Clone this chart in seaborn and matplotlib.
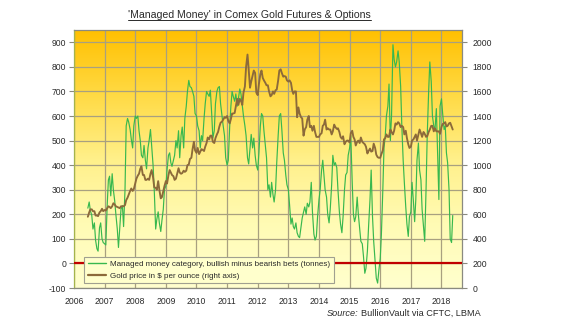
import numpy as np
import pandas as pd
import matplotlib
matplotlib.use("Agg")
import matplotlib.pyplot as plt
from matplotlib.colors import LinearSegmentedColormap
from matplotlib.lines import Line2D
import seaborn as sns

# ---------------------------------------------------------------------------
# Semi-monthly observations (1st and 15th), mid-June 2006 to mid-May 2018
# Managed money net position, tonnes (bullish minus bearish bets)
mm_2006 = [225, 250, 215, 195, 140, 165, 95, 60, 50, 145, 165, 100, 85]
mm_2007 = [80, 75, 240, 340, 355, 275, 365, 300, 255, 200, 140, 65,
           150, 220, 235, 150, 300, 560, 590, 575, 545, 505, 470, 560]
mm_2008 = [600, 590, 600, 540, 500, 440, 430, 480, 420, 385, 470, 500,
           545, 480, 400, 300, 140, 180, 210, 165, 130, 175, 220, 300]
mm_2009 = [315, 380, 440, 450, 410, 395, 420, 440, 500, 470, 540, 430,
           520, 555, 470, 590, 640, 700, 745, 720, 715, 700, 680, 610]
mm_2010 = [600, 560, 540, 470, 520, 500, 590, 650, 700, 690, 680, 705,
           610, 510, 540, 650, 700, 715, 720, 650, 600, 560, 520, 430]
mm_2011 = [400, 420, 560, 640, 700, 680, 660, 690, 640, 670, 710, 690,
           640, 600, 560, 520, 430, 405, 470, 525, 470, 510, 440, 400]
mm_2012 = [380, 450, 560, 610, 600, 540, 480, 430, 300, 320, 270, 330,
           280, 250, 300, 410, 520, 600, 610, 545, 450, 420, 360, 320]
mm_2013 = [300, 240, 160, 185, 150, 140, 165, 125, 110, 105, 150, 185,
           210, 230, 200, 245, 230, 250, 330, 210, 120, 95, 110, 190]
mm_2014 = [260, 300, 380, 420, 360, 300, 270, 200, 165, 220, 320, 440,
           400, 410, 390, 300, 210, 160, 125, 190, 300, 360, 370, 440]
mm_2015 = [470, 520, 330, 200, 170, 190, 270, 200, 140, 90, 80, 30,
           -40, -20, 50, 150, 260, 380, 190, 90, 10, -60, -80, -30]
mm_2016 = [20, 120, 300, 470, 520, 600, 640, 730, 500, 600, 890, 830,
           800, 820, 865, 820, 720, 560, 420, 330, 230, 160, 110, 190]
mm_2017 = [210, 330, 250, 170, 260, 420, 490, 380, 340, 220, 150, 90,
           300, 520, 700, 820, 740, 600, 560, 540, 630, 450, 260, 640]
mm_2018 = [670, 610, 545, 560, 450, 410, 300, 100, 85, 195]

# Gold price, US$ per ounce
gold_2006 = [580, 615, 640, 640, 625, 625, 590, 590, 585, 615, 625, 645, 625]
gold_2007 = [635, 630, 650, 665, 660, 650, 665, 690, 680, 665, 660, 655,
             650, 665, 665, 665, 675, 715, 735, 760, 790, 810, 790, 805]
gold_2008 = [850, 890, 915, 930, 970, 990, 920, 920, 880, 880, 890, 880,
             930, 960, 900, 820, 815, 800, 870, 800, 730, 740, 790, 830]
gold_2009 = [870, 850, 920, 960, 940, 920, 910, 880, 890, 930, 975, 940,
             930, 935, 955, 945, 955, 1000, 1005, 1050, 1060, 1130, 1190, 1120]
gold_2010 = [1100, 1140, 1090, 1110, 1130, 1125, 1115, 1150, 1180, 1225, 1210, 1240,
             1240, 1190, 1180, 1220, 1250, 1270, 1315, 1345, 1355, 1370, 1390, 1385]
gold_2011 = [1400, 1360, 1340, 1375, 1420, 1420, 1425, 1480, 1540, 1490, 1540, 1525,
             1490, 1590, 1640, 1800, 1900, 1780, 1630, 1680, 1730, 1770, 1750, 1590]
gold_2012 = [1570, 1660, 1740, 1770, 1710, 1690, 1670, 1650, 1650, 1600, 1560, 1570,
             1600, 1580, 1610, 1615, 1690, 1770, 1780, 1750, 1720, 1725, 1720, 1690]
gold_2013 = [1680, 1690, 1670, 1610, 1580, 1600, 1600, 1390, 1470, 1420, 1390, 1380,
             1240, 1290, 1310, 1370, 1400, 1310, 1320, 1280, 1320, 1270, 1230, 1230]
gold_2014 = [1230, 1250, 1260, 1320, 1330, 1370, 1290, 1300, 1290, 1290, 1250, 1275,
             1330, 1310, 1295, 1300, 1270, 1230, 1215, 1235, 1170, 1190, 1200, 1200]
gold_2015 = [1185, 1260, 1280, 1230, 1210, 1160, 1190, 1200, 1180, 1225, 1190, 1180,
             1170, 1150, 1095, 1115, 1135, 1110, 1115, 1175, 1140, 1085, 1065, 1060]
gold_2016 = [1060, 1090, 1120, 1210, 1220, 1250, 1230, 1230, 1290, 1270, 1250, 1280,
             1340, 1330, 1350, 1340, 1310, 1320, 1310, 1250, 1280, 1220, 1170, 1140]
gold_2017 = [1150, 1200, 1210, 1230, 1250, 1200, 1250, 1290, 1260, 1230, 1270, 1255,
             1230, 1235, 1270, 1290, 1320, 1320, 1275, 1300, 1275, 1275, 1275, 1255]
gold_2018 = [1310, 1335, 1340, 1350, 1315, 1320, 1340, 1345, 1315, 1290]

year_ticks = list(range(2006, 2019))
left_ticks = list(range(-100, 1000, 100))
right_ticks = list(range(0, 2100, 200))

title = "'Managed Money' in Comex Gold Futures & Options"
mm_label = "Managed money category, bullish minus bearish bets (tonnes)"
gold_label = "Gold price in \\$ per ounce (right axis)"
source_italic = "Source:"
source_rest = "BullionVault via CFTC, LBMA"

# ---------------------------------------------------------------------------
dates = pd.date_range("2006-06-15", "2018-05-15", freq="SMS")
days_in_year = np.where(dates.is_leap_year, 366.0, 365.0)
frac_year = dates.year + (dates.dayofyear - 1) / days_in_year

mm_values = (mm_2006 + mm_2007 + mm_2008 + mm_2009 + mm_2010 + mm_2011 + mm_2012
             + mm_2013 + mm_2014 + mm_2015 + mm_2016 + mm_2017 + mm_2018)
gold_values = (gold_2006 + gold_2007 + gold_2008 + gold_2009 + gold_2010 + gold_2011
               + gold_2012 + gold_2013 + gold_2014 + gold_2015 + gold_2016
               + gold_2017 + gold_2018)

df = pd.DataFrame({"year": np.asarray(frac_year, dtype=float),
                   "managed": mm_values, "gold": gold_values})

sns.set_style("white")
plt.rcParams["font.family"] = ["Liberation Sans", "DejaVu Sans"]
plt.rcParams["axes.unicode_minus"] = False

GREEN = "#38B84E"
BROWN = "#8C6A3A"
GRID = "#A8A080"
FRAME = "#8A8A80"
TXT = "#2A2A2A"

fig = plt.figure(figsize=(5.61, 3.32), dpi=100)
fig.patch.set_facecolor("white")
ax = fig.add_axes([74 / 561, 1 - 288 / 332, 388 / 561, 258 / 332])

x_lo, x_hi = 2006.0, 2018.67
y_lo, y_hi = -100, 950

# vertical orange-to-pale-yellow background
bg = LinearSegmentedColormap.from_list(
    "bg", [(0.0, "#FFFFCE"), (0.25, "#FFFBB4"), (0.5, "#FFF08A"),
           (0.75, "#FFDA44"), (1.0, "#FFC000")])
ax.imshow(np.linspace(0, 1, 256).reshape(-1, 1), cmap=bg, aspect="auto",
          origin="lower", extent=[x_lo, x_hi, y_lo, y_hi], zorder=-10,
          interpolation="bilinear")

sns.lineplot(data=df, x="year", y="managed", ax=ax, color=GREEN,
             linewidth=0.85, estimator=None, sort=False, zorder=3)
ax.axhline(0, color="#C00000", linewidth=1.6, zorder=4)

ax.set_xlim(x_lo, x_hi)
ax.set_ylim(y_lo, y_hi)
ax.set_xticks(year_ticks)
ax.set_yticks(left_ticks)
ax.set_xlabel("")
ax.set_ylabel("")
ax.set_axisbelow(True)
ax.grid(True, color=GRID, linewidth=0.9)
ax.tick_params(axis="both", labelsize=6.2, colors=FRAME, labelcolor=TXT,
               length=3.5, width=0.8, direction="out")
ax.tick_params(axis="y", pad=2)
ax.tick_params(axis="x", pad=3)
for side, sp in ax.spines.items():
    sp.set_color(FRAME)
    sp.set_linewidth(0.9)
ax.spines["left"].set_color("#A4B44C")

ax2 = ax.twinx()
sns.lineplot(data=df, x="year", y="gold", ax=ax2, color=BROWN,
             linewidth=1.35, estimator=None, sort=False, zorder=3)
ax2.set_ylim(2 * (y_lo + 100), 2 * (y_hi + 100))
ax2.set_yticks(right_ticks)
ax2.set_ylabel("")
ax2.tick_params(axis="y", labelsize=6.2, colors=FRAME, labelcolor=TXT,
                length=3.5, width=0.8, pad=4)
for sp in ax2.spines.values():
    sp.set_visible(False)

handles = [Line2D([], [], color=GREEN, linewidth=1.0),
           Line2D([], [], color=BROWN, linewidth=1.6)]
leg = ax2.legend(handles, [mm_label, gold_label], loc="lower left",
                 bbox_to_anchor=(0.026, 0.019), fontsize=5.75,
                 frameon=True, fancybox=False, framealpha=1,
                 facecolor="#FFFFCC", edgecolor="#A0A090",
                 handlelength=2.3, handletextpad=0.5, borderpad=0.45,
                 labelspacing=0.5, borderaxespad=0)
leg.get_frame().set_linewidth(0.8)
leg.set_zorder(10)
for t in leg.get_texts():
    t.set_color(TXT)

# title with underline
ttl = fig.text(249.5 / 561, 1 - 15 / 332, title, ha="center", va="center",
               fontsize=7.6, color=TXT)
fig.canvas.draw()
renderer = fig.canvas.get_renderer()
W, H = fig.bbox.width, fig.bbox.height
bb = ttl.get_window_extent(renderer)
fig.add_artist(Line2D([bb.x0 / W, bb.x1 / W], [(bb.y0 + 0.3) / H] * 2,
                      transform=fig.transFigure, color=TXT, linewidth=0.7))

# source note, italic lead-in
src = fig.text(481 / 561, 1 - 313 / 332, source_rest, ha="right", va="center",
               fontsize=6.6, color=TXT)
fig.canvas.draw()
sb = src.get_window_extent(renderer)
fig.text((sb.x0 - 3) / W, 1 - 313 / 332, source_italic, ha="right",
         va="center", fontsize=6.6, color=TXT, style="italic")

fig.savefig("out.png", dpi=100)
